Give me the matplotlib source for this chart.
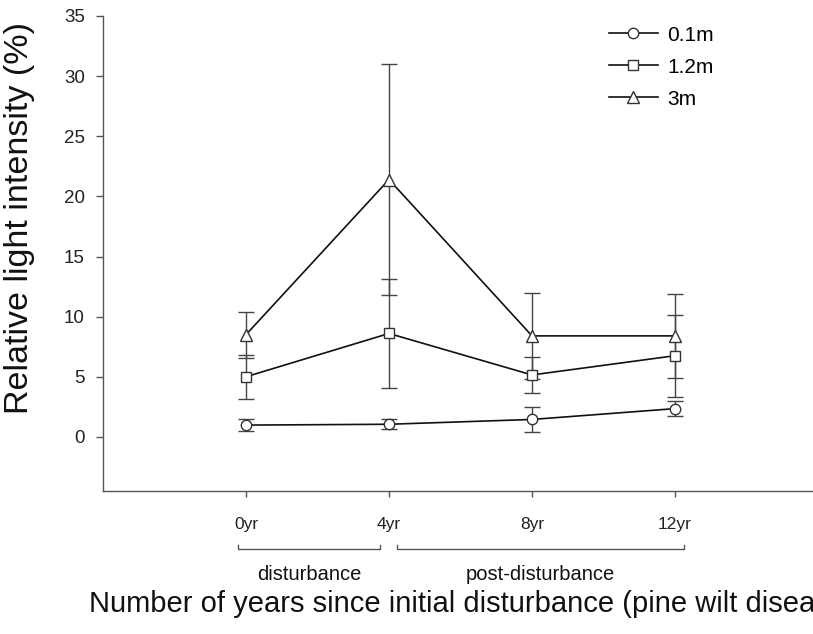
import matplotlib
matplotlib.use('Agg')
import matplotlib.pyplot as plt
import matplotlib.transforms as mtransforms
from matplotlib.lines import Line2D

plt.rcParams['font.family'] = ['Liberation Sans', 'DejaVu Sans']

years = [0, 4, 8, 12]
year_labels = ['0yr', '4yr', '8yr', '12yr']

# mean relative light intensity (%) and error per height
h01 = [0.98, 1.05, 1.45, 2.35]
h01_err = [0.48, 0.42, 1.03, 0.65]
h12 = [5.0, 8.6, 5.15, 6.75]
h12_err = [1.85, 4.5, 1.5, 3.4]
h3 = [8.5, 21.4, 8.4, 8.4]
h3_err = [1.9, 9.6, 3.6, 3.5]

series = [('0.1m', h01, h01_err, 'o'),
          ('1.2m', h12, h12_err, 's'),
          ('3m', h3, h3_err, '^')]

periods = ['disturbance', 'post-disturbance']
period_spans = [(0, 4), (4, 12)]

W, H = 813, 634
fig = plt.figure(figsize=(W / 100, H / 100), dpi=100)
ax = fig.add_axes([103 / W, (H - 491) / H, (818 - 103) / W, (491 - 16) / H])

handles = []
for name, vals, errs, mk in series:
    ms = 8.5 if mk == '^' else 7.5
    ax.errorbar(years, vals, yerr=errs, fmt='-', marker=mk, color='#111111',
                lw=1.2, ms=ms, mfc='white', mec='#333333',
                mew=1.0, ecolor='#444444', elinewidth=1.0, capsize=6,
                capthick=1.0)
    handles.append(Line2D([], [], color='#111111', lw=1.2, marker=mk, ms=ms,
                          mfc='white', mec='#333333', mew=1.0, label=name))

ax.set_xlim(-4, 16)
ax.set_ylim(-4.5, 35)
ax.set_yticks(range(0, 36, 5))
ax.set_xticks(years)
ax.set_xticklabels(year_labels)

for s in ['top', 'right']:
    ax.spines[s].set_visible(False)
for s in ['left', 'bottom']:
    ax.spines[s].set_color('#555555')
    ax.spines[s].set_linewidth(1.0)

ax.tick_params(axis='y', direction='out', length=5, width=1, color='#555555',
               labelsize=13.5, pad=8, labelcolor='#222222')
ax.tick_params(axis='x', direction='out', length=4, width=1, color='#555555',
               labelsize=12.5, pad=15, labelcolor='#222222')

# period brackets under the x axis
trans = mtransforms.blended_transform_factory(ax.transData, fig.transFigure)
y_line = (H - 549) / H
y_tip = (H - 545) / H
y_txt = (H - 575) / H
gap = 0.23
for name, (a, b) in zip(periods, period_spans):
    x0 = a - gap if a == 0 else a + gap
    x1 = b - 0.25 if b == 4 else b + 0.25
    ax.plot([x0, x0, x1, x1], [y_tip, y_line, y_line, y_tip], transform=trans,
            color='#555555', lw=1.0, clip_on=False)
    ax.text((x0 + x1) / 2, y_txt, name, transform=trans, ha='center',
            va='center', fontsize=14.5, color='#111111')

ax.legend(handles=handles, loc='upper left',
          bbox_to_anchor=(590 / W, 1 - 7 / H),
          bbox_transform=fig.transFigure, frameon=False, fontsize=15,
          handlelength=2.35, handletextpad=0.45, labelspacing=0.62)

fig.text(20 / W, 1 - 218 / H, 'Relative light intensity (%)', rotation=90,
         ha='center', va='center', fontsize=24.5, color='#111111')
fig.text(89 / W, 1 - 604 / H,
         'Number of years since initial disturbance (pine wilt disease)',
         ha='left', va='center', fontsize=21, color='#111111')

fig.savefig('out.png', dpi=100)
